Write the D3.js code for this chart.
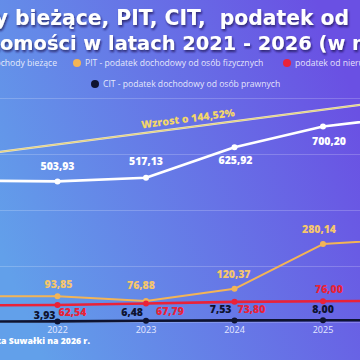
<!DOCTYPE html>
<html><head><meta charset="utf-8">
<script src="https://cdn.jsdelivr.net/npm/d3@7"></script>
<style>html,body{margin:0;padding:0;overflow:hidden;background:#6478e6}</style>
</head><body>
<svg id="c" width="360" height="360"></svg>
<script>
const years = [2021, 2022, 2023, 2024, 2025, 2026];
const dochodyBiezace = [507, 503.93, 517.13, 625.92, 700.20, 737];
const pit = [93.5, 93.85, 76.88, 120.37, 280.14, 299];
const podNieruchomosci = [61.5, 62.54, 67.79, 73.80, 76.00, 77.5];
const cit = [3.5, 3.93, 6.48, 7.53, 8.00, 8.6];
const yTicks = [0, 200, 400, 600, 800];
const seriesNames = ["Dochody bieżące", "PIT - podatek dochodowy od osób fizycznych", "podatek od nieruchomości", "CIT - podatek dochodowy od osób prawnych"];
const titleLines = ["Dochody bieżące, PIT, CIT,  podatek od", "nieruchomości w latach 2021 - 2026 (w mln zł)"];
const growthLabel = "Wzrost o 144,52%";
const growthLine = [[2021, 595], [2026, 801]];
const sourceText = "Źródło: projekt budżetu Miasta Suwałki na 2026 r.";

const fmt = v => d3.format(".2f")(v).replace(".", ",");
const svg = d3.select("#c");
const defs = svg.append("defs");
const g = defs.append("linearGradient").attr("id","bg").attr("x1","0").attr("y1","0.7").attr("x2","1").attr("y2","0.3");
g.append("stop").attr("offset","0").attr("stop-color","#62a0ea");
g.append("stop").attr("offset","1").attr("stop-color","#6a50e3");
const f = defs.append("filter").attr("id","sh").attr("x","-10%").attr("y","-30%").attr("width","120%").attr("height","160%");
f.append("feDropShadow").attr("dx",1).attr("dy",2).attr("stdDeviation",1.2).attr("flood-color","#1c1850").attr("flood-opacity",0.75);
svg.append("rect").attr("width",360).attr("height",360).attr("fill","url(#bg)");

const x = d3.scaleLinear().domain([2022, 2025]).range([57.5, 323]);
const y = d3.scaleLinear().domain([0, 800]).range([322.5, 98.5]);

// gridlines
svg.append("g").selectAll("line").data(yTicks).join("line")
  .attr("x1",0).attr("x2",360).attr("y1",d=>y(d)).attr("y2",d=>y(d))
  .attr("stroke","rgba(255,255,255,0.2)").attr("stroke-width",1);

// growth annotation
const gl = d3.line().x(d=>x(d[0])).y(d=>y(d[1]));
svg.append("path").attr("d",gl(growthLine)).attr("fill","none").attr("stroke","#ece4c8").attr("stroke-width",2.2);
svg.append("path").attr("d",gl(growthLine)).attr("fill","none").attr("stroke","#e2cf70").attr("stroke-width",0.9);
const ang = Math.atan2(y(growthLine[1][1])-y(growthLine[0][1]), x(growthLine[1][0])-x(growthLine[0][0]))*180/Math.PI;
const gy = 2023.48, gv = growthLine[0][1] + (gy-growthLine[0][0])*(growthLine[1][1]-growthLine[0][1])/(growthLine[1][0]-growthLine[0][0]);
svg.append("text").attr("transform",`translate(${x(gy)},${y(gv)-5}) rotate(${ang})`)
  .attr("text-anchor","middle").attr("font-family","Open Sans").attr("font-weight",800).attr("font-size",10.5)
  .attr("fill","#f3d66a").text(growthLabel);

const series = [
  {vals: dochodyBiezace, color:"#ffffff", label:"#ffffff", w:2.6,
   place:[["middle",0,-12],["middle",0,-11.5],["middle",0,-12.5],["middle",1,17],["middle",6,19],["middle",0,-12]]},
  {vals: pit, color:"#f3b456", label:"#f5c66c", w:2,
   place:[["middle",0,-8],["middle",1,-8],["middle",-5,-12],["middle",-1,-11],["middle",-4,-11],["middle",0,-11]]},
  {vals: podNieruchomosci, color:"#ea2238", label:"#ea2238", w:2.6,
   place:[["start",1,11],["start",1,11],["start",10,11.5],["start",3,11],["middle",6,-8],["middle",0,-8]]},
  {vals: cit, color:"#0e1330", label:"#0e1330", w:2.6,
   place:[["end",-2,-2.5],["end",-2,-2.5],["end",-3,-4.5],["end",-3,-7],["middle",0,-7],["middle",0,-7]]}
];
const line = d3.line().x((d,i)=>x(years[i])).y(d=>y(d));
series.forEach(s=>{
  svg.append("path").attr("d",line(s.vals)).attr("fill","none").attr("stroke",s.color).attr("stroke-width",s.w).attr("stroke-linejoin","round");
});
series.forEach(s=>{
  svg.append("g").selectAll("circle").data(s.vals).join("circle")
    .attr("cx",(d,i)=>x(years[i])).attr("cy",d=>y(d)).attr("r",3).attr("fill",s.color);
});
series.forEach(s=>{
  svg.append("g").selectAll("text").data(s.vals).join("text")
    .attr("x",(d,i)=>x(years[i])+s.place[i][1]).attr("y",(d,i)=>y(d)+s.place[i][2])
    .attr("text-anchor",(d,i)=>s.place[i][0])
    .attr("font-family","Open Sans").attr("font-weight",800).attr("font-size",10.5)
    .attr("fill",s.label).text(d=>fmt(d));
});

// x axis year labels
svg.append("g").selectAll("text").data(years).join("text")
  .attr("x",d=>x(d)).attr("y",333).attr("text-anchor","middle")
  .attr("font-family","Open Sans").attr("font-size",9).attr("fill","#e4e8ff").text(d=>d);

// title
const TF = "DejaVu Sans";
function mk(txt, yPos, fs){
  return svg.append("text").attr("y",yPos).attr("font-family",TF).attr("font-weight",700)
    .attr("font-size",fs).attr("fill","#ffffff").attr("filter","url(#sh)").style("white-space","pre").text(txt);
}
const t2 = mk(titleLines[1], 50, 20);
let n2 = t2.node();
const a0 = n2.getSubStringLength(0, titleLines[1].indexOf("omości"));
const a1 = n2.getSubStringLength(0, titleLines[1].indexOf("2026")+4);
const fs = 20*(312-0)/(a1-a0);
t2.attr("font-size",fs);
t2.attr("x", 0 - n2.getSubStringLength(0, titleLines[1].indexOf("omości")));
const t1 = mk(titleLines[0], 25, fs);
const n1 = t1.node();
const b0 = n1.getSubStringLength(0, titleLines[0].indexOf("bieżące"));
const b1 = n1.getSubStringLength(0, titleLines[0].length);
const k1 = (349-15)/(b1-b0);
t1.attr("font-size", fs*k1);
t1.attr("x", 15 - n1.getSubStringLength(0, titleLines[0].indexOf("bieżące")));

// legend
const legY = [63, 63, 63, 84];
const legDotX = [-50, 77, 287, 95];
const legColors = series.map(s=>s.color);
const lg = svg.append("g").attr("font-family","Open Sans").attr("font-size",8.6).attr("fill","rgba(255,255,255,0.85)");
seriesNames.forEach((nm,i)=>{
  lg.append("circle").attr("cx",legDotX[i]).attr("cy",legY[i]).attr("r",4).attr("fill",legColors[i]);
  const t = lg.append("text").attr("y",legY[i]+3).text(nm);
  if(i===0){ t.attr("text-anchor","end").attr("x",57); }
  else t.attr("x",legDotX[i]+8);
});

// source
const src = svg.append("text").attr("y",344)
  .attr("font-family","Open Sans").attr("font-weight",800).attr("font-size",9).attr("fill","#ffffff").text(sourceText);
const sn = src.node();
const i0 = sourceText.indexOf("a Suwałki");
const c0 = sn.getSubStringLength(0, i0), c1 = sn.getSubStringLength(0, sourceText.length);
const ks = 89/(c1-c0);
src.attr("font-size", 9*ks);
src.attr("x", 1 - sn.getSubStringLength(0, i0));
</script>
</body></html>
